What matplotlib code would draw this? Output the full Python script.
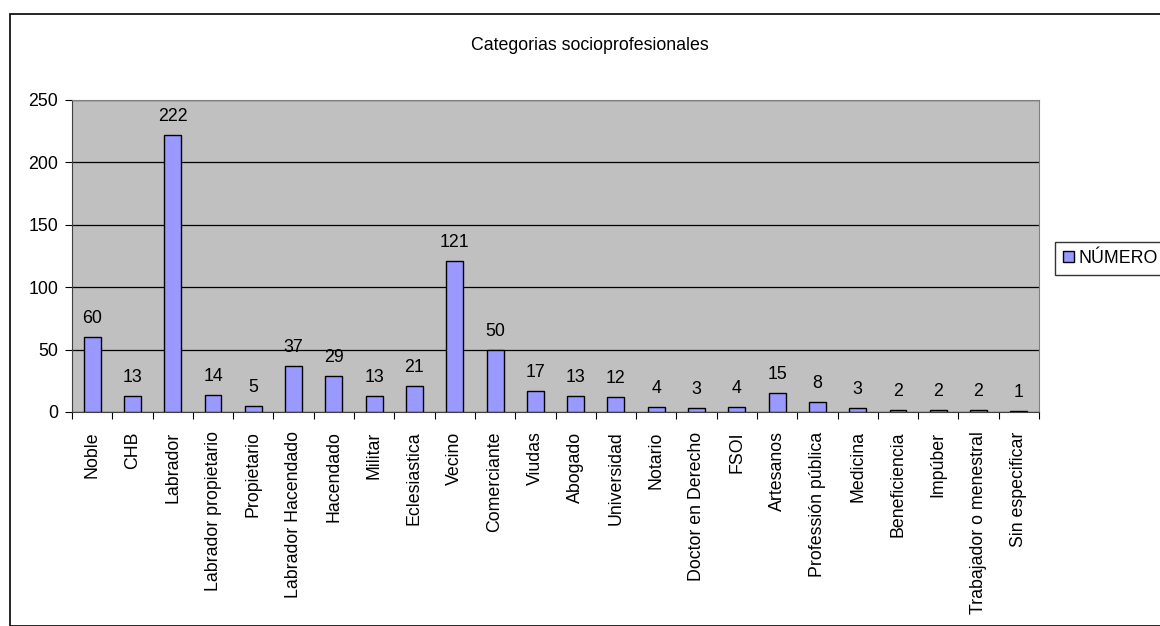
import matplotlib.pyplot as plt
import numpy as np
from matplotlib.patches import Rectangle

plt.rcParams['font.family'] = ['Liberation Sans', 'DejaVu Sans']

categorias = ["Noble", "CHB", "Labrador", "Labrador propietario", "Propietario",
              "Labrador Hacendado", "Hacendado", "Militar", "Eclesiastica", "Vecino",
              "Comerciante", "Viudas", "Abogado", "Universidad", "Notario",
              "Doctor en Derecho", "FSOI", "Artesanos", "Professión pública", "Medicina",
              "Beneficiencia", "Impúber", "Trabajador o menestral", "Sin especificar"]
numero = [60, 13, 222, 14, 5, 37, 29, 13, 21, 121, 50, 17, 13, 12, 4, 3, 4, 15, 8, 3, 2, 2, 2, 1]

W, H = 1160, 626
fs = 12.8
fig = plt.figure(figsize=(W / 100, H / 100), dpi=100)
fig.patch.set_facecolor('white')

# marco exterior del grafico
fig.patches.append(Rectangle((10 / W, 0), 2, 1 - 14 / H, transform=fig.transFigure,
                             fill=False, edgecolor='black', lw=1.2, clip_on=False))

ax = fig.add_axes([72 / W, 1 - 412 / H, (1039 - 72) / W, (412 - 100) / H])
ax.set_facecolor('#c0c0c0')
x = np.arange(len(categorias))
barras = ax.bar(x, numero, width=0.42, color='#9999ff', edgecolor='black', lw=1,
                label='NÚMERO', zorder=3)
for xi, v in zip(x, numero):
    ax.text(xi, v + 8, str(v), ha='center', va='bottom', fontsize=fs)

ax.set_xlim(-0.5, len(categorias) - 0.5)
ax.set_ylim(0, 250)
ax.set_yticks(range(0, 251, 50))
ax.yaxis.grid(True, color='black', lw=0.9, zorder=1)
ax.set_axisbelow(True)
ax.tick_params(axis='y', labelsize=fs, length=5, width=0.8, direction='out', pad=5)

ax.set_xticks(x)
ax.set_xticklabels(categorias, rotation=90, fontsize=fs)
ax.set_xticks(np.arange(-0.5, len(categorias), 1), minor=True)
ax.tick_params(axis='x', which='major', length=0, pad=14)
ax.tick_params(axis='x', which='minor', length=5, width=0.8, direction='out')

for s in ['top', 'right']:
    ax.spines[s].set_color('#808080')
ax.spines['left'].set_color('#404040')
ax.spines['bottom'].set_color('#404040')

fig.text(590 / W, 1 - 45 / H, 'Categorias socioprofesionales', ha='center', va='center',
         fontsize=fs)

fig.legend(handles=[barras], loc='upper left', bbox_to_anchor=(1055 / W, 1 - 242 / H),
           frameon=True, fancybox=False, edgecolor='black', fontsize=fs,
           handlelength=0.6, handleheight=0.6, handletextpad=0.25, borderpad=0.45,
           borderaxespad=0)

fig.savefig('out.png', dpi=100)
